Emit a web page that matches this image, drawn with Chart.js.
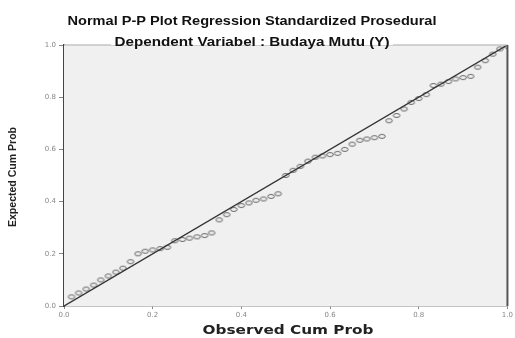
<!DOCTYPE html>
<html>
<head>
<meta charset="utf-8">
<script src="https://cdn.jsdelivr.net/npm/chart.js@4.4.0/dist/chart.umd.min.js"></script>
<style>
  html, body { margin: 0; padding: 0; background: #fff; }
  #wrap { width: 515px; height: 338px; position: relative; }
</style>
</head>
<body>
<div id="wrap"><canvas id="myChart" width="515" height="338"></canvas></div>
<script>
// judul dan label
var titleLines = ['Normal P-P Plot Regression Standardized Prosedural', 'Dependent Variabel : Budaya Mutu (Y)'];
var xTitle = 'Observed Cum Prob';
var yTitle = 'Expected Cum Prob';

// data titik
var observed = [0.017, 0.033, 0.050, 0.067, 0.083, 0.100, 0.117, 0.133, 0.150, 0.167,
                0.183, 0.200, 0.217, 0.233, 0.250, 0.267, 0.283, 0.300, 0.317, 0.333,
                0.350, 0.367, 0.383, 0.400, 0.417, 0.433, 0.450, 0.467, 0.483, 0.500,
                0.517, 0.533, 0.550, 0.567, 0.583, 0.600, 0.617, 0.633, 0.650, 0.667,
                0.683, 0.700, 0.717, 0.733, 0.750, 0.767, 0.783, 0.800, 0.817, 0.833,
                0.850, 0.867, 0.883, 0.900, 0.917, 0.933, 0.950, 0.967, 0.983, 1.000];
var expected = [0.035, 0.050, 0.065, 0.080, 0.100, 0.115, 0.130, 0.145, 0.170, 0.200,
                0.210, 0.215, 0.220, 0.225, 0.250, 0.255, 0.260, 0.265, 0.270, 0.280,
                0.330, 0.350, 0.370, 0.385, 0.395, 0.405, 0.410, 0.420, 0.430, 0.500,
                0.520, 0.535, 0.555, 0.570, 0.575, 0.580, 0.585, 0.600, 0.620, 0.635,
                0.640, 0.645, 0.650, 0.710, 0.730, 0.755, 0.780, 0.795, 0.810, 0.845,
                0.850, 0.860, 0.870, 0.875, 0.880, 0.915, 0.940, 0.965, 0.985, 0.995];
var refLine = [0, 1];

// penanda oval kecil seperti SPSS
var oval = document.createElement('canvas');
oval.width = 10; oval.height = 7;
(function() {
    var c = oval.getContext('2d');
    c.strokeStyle = '#444';
    c.lineWidth = 0.8;
    c.beginPath();
    c.ellipse(5, 3.5, 3.3, 2.0, 0, 0, Math.PI * 2);
    c.stroke();
})();

var points = observed.map(function(x, i) { return { x: x, y: expected[i] }; });
var diag = refLine.map(function(v) { return { x: v, y: v }; });

var frame = {
    id: 'frame',
    beforeDatasetsDraw: function(chart) {
        var a = chart.chartArea, ctx = chart.ctx;
        ctx.save();
        ctx.fillStyle = '#f0f0f0';
        ctx.fillRect(a.left, a.top, a.right - a.left, a.bottom - a.top);
        ctx.restore();
    },
    afterDraw: function(chart) {
        var a = chart.chartArea, ctx = chart.ctx;
        ctx.save();
        // garis atas dan kanan
        ctx.strokeStyle = '#c4c4c4';
        ctx.lineWidth = 1.5;
        ctx.beginPath(); ctx.moveTo(a.left, a.top); ctx.lineTo(a.right, a.top); ctx.stroke();
        ctx.strokeStyle = '#555';
        ctx.lineWidth = 2;
        ctx.beginPath(); ctx.moveTo(a.right, a.top); ctx.lineTo(a.right, a.bottom); ctx.stroke();

        // judul
        ctx.fillStyle = '#111';
        ctx.textAlign = 'center';
        ctx.textBaseline = 'middle';
        ctx.font = 'bold 13px "Liberation Sans", Arial, sans-serif';
        var widths = [369, 275], ys = [21, 42];
        titleLines.forEach(function(t, i) {
            var w = ctx.measureText(t).width;
            ctx.save();
            ctx.translate(252, ys[i]);
            ctx.scale(widths[i] / w, 1);
            if (i === 1) {
                ctx.fillStyle = '#fff';
                ctx.fillRect(-w / 2 - 3, -7, w + 6, 10);
                ctx.fillStyle = '#111';
            }
            ctx.fillText(t, 0, 0);
            ctx.restore();
        });

        // judul sumbu x
        ctx.font = 'bold 12px "DejaVu Sans", sans-serif';
        var wx = ctx.measureText(xTitle).width;
        ctx.save();
        ctx.translate(288, 331);
        ctx.scale(171 / wx, 1);
        ctx.fillStyle = '#222';
        ctx.fillText(xTitle, 0, 0);
        ctx.restore();

        // judul sumbu y
        ctx.font = 'bold 10px "Liberation Sans", Arial, sans-serif';
        var wy = ctx.measureText(yTitle).width;
        ctx.save();
        ctx.translate(13, 177);
        ctx.rotate(-Math.PI / 2);
        ctx.scale(100 / wy, 1);
        ctx.fillStyle = '#222';
        ctx.fillText(yTitle, 0, 0);
        ctx.restore();
        ctx.restore();
    }
};

var ctx = document.getElementById('myChart').getContext('2d');
new Chart(ctx, {
    type: 'scatter',
    data: {
        datasets: [
            {
                type: 'line',
                data: diag,
                borderColor: '#333',
                borderWidth: 1.4,
                pointRadius: 0,
                fill: false
            },
            {
                data: points,
                pointStyle: oval,
                pointRadius: 4,
                showLine: false
            }
        ]
    },
    plugins: [frame],
    options: {
        responsive: false,
        animation: false,
        layout: { padding: { top: 45, right: 6, left: 0, bottom: 0 } },
        plugins: {
            legend: { display: false },
            tooltip: { enabled: false },
            title: { display: false }
        },
        scales: {
            x: {
                type: 'linear',
                min: 0, max: 1,
                ticks: {
                    stepSize: 0.2,
                    color: '#888',
                    font: { size: 7, family: 'DejaVu Sans' },
                    padding: 2,
                    callback: function(v) { return v.toFixed(1); }
                },
                grid: { drawOnChartArea: false, tickLength: 3, color: '#888' },
                border: { color: '#8a8a8a', width: 1.5 },
                afterFit: function(s) { s.height = 32; }
            },
            y: {
                type: 'linear',
                min: 0, max: 1,
                ticks: {
                    stepSize: 0.2,
                    color: '#888',
                    font: { size: 7, family: 'DejaVu Sans' },
                    padding: 3,
                    callback: function(v) { return v.toFixed(1); }
                },
                grid: { drawOnChartArea: false, tickLength: 5, color: '#888' },
                border: { color: '#444', width: 2 },
                afterFit: function(s) { s.width = 64; }
            }
        }
    }
});
</script>
</body>
</html>
